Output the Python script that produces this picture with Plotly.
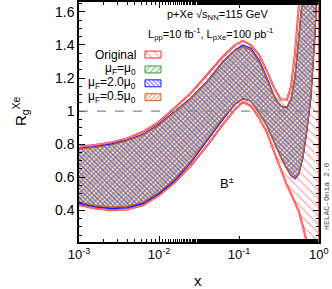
import plotly.graph_objects as go

# ---------------- data ----------------
x = [0.001, 0.00158, 0.00251, 0.00398, 0.00631, 0.01, 0.0158, 0.0251, 0.0398,
     0.0631, 0.0891, 0.112, 0.141, 0.178, 0.224, 0.282, 0.335, 0.398, 0.447,
     0.501, 0.562, 0.631, 0.708, 0.794, 0.891, 1.0]

orig_up = [0.785, 0.795, 0.81, 0.835, 0.875, 0.935, 1.02, 1.11, 1.22, 1.33, 1.40, 1.425,
           1.40, 1.34, 1.24, 1.13, 1.07, 1.07, 1.15, 1.35, 1.65, 2.0, 2.5, 2.5, 2.5, 2.5]
orig_lo = [0.43, 0.41, 0.40, 0.405, 0.43, 0.49, 0.57, 0.67, 0.79, 0.92, 1.01, 1.055,
           1.03, 0.96, 0.87, 0.74, 0.64, 0.55, 0.50, 0.45, 0.39, 0.30, 0.21, 0.1, 0.0, -0.1]

mu1_up = [0.772, 0.782, 0.797, 0.822, 0.857, 0.917, 0.997, 1.077, 1.177, 1.297, 1.367, 1.39,
          1.37, 1.30, 1.19, 1.075, 1.03, 1.025, 1.075, 1.21, 1.46, 1.76, 2.2, 2.5, 2.5, 2.5]
mu1_lo = [0.445, 0.425, 0.415, 0.42, 0.445, 0.505, 0.585, 0.695, 0.825, 0.955, 1.045, 1.075,
          1.06, 0.99, 0.91, 0.80, 0.72, 0.65, 0.615, 0.595, 0.625, 0.725, 0.89, 1.10, 1.48, 2.0]

mu2_up = [0.775, 0.785, 0.80, 0.825, 0.86, 0.92, 1.0, 1.08, 1.18, 1.30, 1.37, 1.40,
          1.38, 1.31, 1.20, 1.08, 1.03, 1.02, 1.07, 1.20, 1.45, 1.75, 2.2, 2.5, 2.5, 2.5]
mu2_lo = [0.44, 0.42, 0.41, 0.415, 0.44, 0.50, 0.58, 0.69, 0.82, 0.95, 1.04, 1.075,
          1.06, 0.99, 0.91, 0.80, 0.72, 0.65, 0.61, 0.59, 0.62, 0.72, 0.88, 1.08, 1.45, 2.0]

mu05_up = [0.77, 0.78, 0.795, 0.82, 0.855, 0.915, 0.995, 1.075, 1.175, 1.295, 1.365, 1.39,
           1.37, 1.30, 1.19, 1.075, 1.03, 1.025, 1.075, 1.21, 1.46, 1.76, 2.2, 2.5, 2.5, 2.5]
mu05_lo = [0.45, 0.43, 0.42, 0.425, 0.45, 0.51, 0.59, 0.70, 0.83, 0.96, 1.045, 1.075,
           1.06, 0.99, 0.91, 0.80, 0.72, 0.65, 0.615, 0.595, 0.625, 0.725, 0.89, 1.10, 1.48, 2.0]

labels = ["Original", "μ<sub>F</sub>=μ<sub>0</sub>", "μ<sub>F</sub>=2.0μ<sub>0</sub>",
          "μ<sub>F</sub>=0.5μ<sub>0</sub>"]
colors = ["#ff2a2a", "#3c9a3c", "#1a1aff", "#c8642a"]
patterns = [dict(shape="\\", size=6, solidity=0.18),
            dict(shape="/", size=4, solidity=0.4),
            dict(shape="\\", size=3, solidity=0.45),
            dict(shape="/", size=3, solidity=0.45)]
bands = [(orig_up, orig_lo), (mu1_up, mu1_lo), (mu2_up, mu2_lo), (mu05_up, mu05_lo)]

xticks = [0.001, 0.01, 0.1, 1]
xticktext = ["10<sup>-3</sup>", "10<sup>-2</sup>", "10<sup>-1</sup>", ""]
last_xtick = "10<sup>0</sup>"
yticks = [0.4, 0.6, 0.8, 1.0, 1.2, 1.4, 1.6]
yticktext = ["0.4", "0.6", "0.8", "1", "1.2", "1.4", "1.6"]

FONT = "Liberation Sans, Arial, sans-serif"
W, H = 332, 289
L, R, T, B = 79, 13, 0, 47
PW, PH = W - L - R, H - T - B


def px(xp):
    return (xp - L) / PW


def py(yp):
    return (H - B - yp) / PH


fig = go.Figure()

for i, ((up, lo), col, pat) in enumerate(zip(bands, colors, patterns)):
    fig.add_trace(go.Scatter(
        x=x + x[::-1], y=up + lo[::-1], mode="lines", fill="toself",
        fillcolor="rgba(0,0,0,0)",
        fillpattern=dict(fgcolor=col, bgcolor="rgba(0,0,0,0)", **pat),
        line=dict(color=col, width=2.0 if i == 0 else 1.2),
        showlegend=False, hoverinfo="skip"))
    if i == 0:
        # double-line look of the outer band edges
        fig.add_trace(go.Scatter(
            x=x + x[::-1], y=up + lo[::-1], mode="lines",
            line=dict(color="#ffd0d0", width=0.6), showlegend=False, hoverinfo="skip"))

# dashed line at 1
fig.add_shape(type="line", xref="paper", x0=0, x1=1, yref="y", y0=1, y1=1,
              line=dict(color="#888888", width=1.2, dash="dash"))

# custom legend (overlay axes in pixel units of the plot area)
leg_y = [53, 68, 82, 96]
for lab, col, pat, yy in zip(labels, colors, patterns, leg_y):
    fig.add_trace(go.Scatter(
        x=[145, 161, 161, 145, 145], y=[yy - 3.5, yy - 3.5, yy + 3.5, yy + 3.5, yy - 3.5],
        xaxis="x2", yaxis="y2", mode="lines", fill="toself",
        fillcolor="rgba(0,0,0,0)",
        fillpattern=dict(fgcolor=col, bgcolor="rgba(0,0,0,0)", **pat),
        line=dict(color=col, width=1), showlegend=False, hoverinfo="skip"))
    fig.add_annotation(x=138, y=yy, xref="x2", yref="y2", text=lab, showarrow=False,
                       xanchor="right", yanchor="middle",
                       font=dict(family=FONT, size=12, color="black"))

fig.add_annotation(x=217, y=13, xref="x2", yref="y2",
                   text="p+Xe √s<sub>NN</sub>=115 GeV", showarrow=False,
                   font=dict(family=FONT, size=11, color="black"))
fig.add_annotation(x=210, y=32, xref="x2", yref="y2",
                   text="L<sub>pp</sub>=10 fb<sup>-1</sup>, L<sub>pXe</sub>=100 pb<sup>-1</sup>",
                   showarrow=False, font=dict(family=FONT, size=11, color="black"))
fig.add_annotation(x=227, y=183, xref="x2", yref="y2", text="B<sup>±</sup>",
                   showarrow=False, font=dict(family=FONT, size=13, color="black"))
# side label
fig.add_annotation(x=px(320), y=py(196), xref="paper", yref="paper",
                   xanchor="left", yanchor="middle",
                   text="HELAC-Onia 2.0", textangle=-90, showarrow=False,
                   font=dict(family="Liberation Mono, DejaVu Sans Mono, monospace", size=8,
                             color="#444444"))
# last x tick label, kept inside the window
fig.add_annotation(x=px(331), y=py(254), xref="paper", yref="paper",
                   xanchor="right", yanchor="middle", text=last_xtick, showarrow=False,
                   font=dict(family=FONT, size=13, color="black"))
# axis titles
fig.add_annotation(x=px(20), y=py(110), xref="paper", yref="paper",
                   xanchor="center", yanchor="middle",
                   text="R<sub>g</sub><sup>Xe</sup>", textangle=-90, showarrow=False,
                   font=dict(family=FONT, size=15, color="black"))
fig.add_annotation(x=px(198), y=py(281), xref="paper", yref="paper",
                   xanchor="center", yanchor="middle", text="x", showarrow=False,
                   font=dict(family=FONT, size=15, color="black"))

fig.update_layout(
    width=W, height=H,
    margin=dict(l=L, r=R, t=T, b=B),
    paper_bgcolor="white", plot_bgcolor="white",
    showlegend=False,
    font=dict(family=FONT, size=14, color="black"),
    xaxis=dict(type="log", range=[-3, 0], tickvals=xticks, ticktext=xticktext,
               ticks="inside", ticklen=6, tickwidth=1, tickcolor="black",
               minor=dict(ticks="inside", ticklen=3, tickcolor="black", showgrid=False),
               showline=True, linecolor="black", linewidth=1.5, mirror="ticks",
               showgrid=False, zeroline=False,
               tickfont=dict(size=13)),
    yaxis=dict(range=[0.208, 1.66], tickvals=yticks, ticktext=yticktext,
               ticks="inside", ticklen=6, tickwidth=1, tickcolor="black",
               minor=dict(ticks="inside", ticklen=3, dtick=0.05, tickcolor="black",
                          showgrid=False),
               showline=True, linecolor="black", linewidth=1.5, mirror="ticks",
               showgrid=False, zeroline=False,
               tickfont=dict(size=14)),
    xaxis2=dict(range=[79, 319], overlaying="x", visible=False, fixedrange=True),
    yaxis2=dict(range=[242, 0], overlaying="y", visible=False, fixedrange=True),
)

fig.write_html("out.html", config={"displayModeBar": False},
               post_script="document.body.style.margin='0';"
                           "document.body.style.overflow='hidden';")
